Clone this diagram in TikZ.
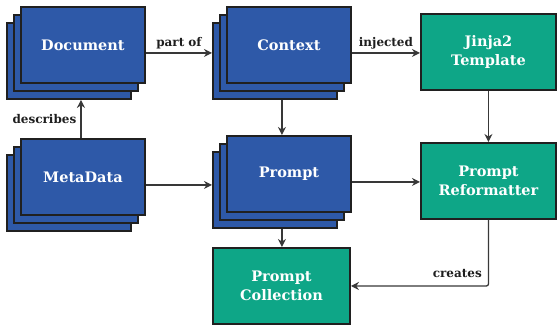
\documentclass[tikz,border=0pt]{standalone}
\usepackage{fontspec}
\setmainfont{DejaVu Serif}
\usetikzlibrary{arrows.meta,fit}
\definecolor{boxblue}{HTML}{2E59A8}
\definecolor{boxgreen}{HTML}{0EA687}
\definecolor{edgecol}{HTML}{202020}
\definecolor{wirecol}{HTML}{383838}
\definecolor{labelcol}{HTML}{1E1E1E}
\tikzset{
  card/.style={draw=edgecol, line width=1.9pt, fill=boxblue, minimum width=124pt, minimum height=76pt, inner sep=0pt, anchor=north west, text=white, font=\bfseries\fontsize{14.5}{19}\selectfont},
  greenbox/.style={draw=edgecol, line width=1.9pt, fill=boxgreen, minimum height=76pt, inner sep=0pt, anchor=north west, align=center, text=white, font=\bfseries\fontsize{14.5}{19}\selectfont},
  stackfit/.style={inner sep=0pt, outer sep=0pt, draw=none},
  wire/.style={draw=wirecol, line width=1.3pt, -{Stealth[length=8pt,width=8pt]}},
  edgelabel/.style={font=\bfseries\fontsize{12}{14}\selectfont, text=labelcol, inner sep=2pt}
}
\newcommand\cardstack[4]{%
  \node[card] (#1b) at (#2-14,#3+16) {};
  \node[card] (#1m) at (#2-7,#3+8) {};
  \node[card] (#1f) at (#2,#3) {#4};
  \node[stackfit, fit=(#1b)(#1f)] (#1) {};
}
\begin{document}
\begin{tikzpicture}[x=1pt,y=-1pt]
\useasboundingbox (0,0) rectangle (557,329);
\cardstack{doc}{20}{6}{Document}
\cardstack{ctx}{226}{6}{Context}
\cardstack{meta}{20}{138}{MetaData}
\cardstack{prm}{226}{135}{Prompt}
\node[greenbox, minimum width=135pt] (jinja) at (420,13) {Jinja2\\Template};
\node[greenbox, minimum width=135pt] (reform) at (420,142) {Prompt\\Reformatter};
\node[greenbox, minimum width=137pt] (coll) at (212,247) {Prompt\\Collection};

\draw[wire] (doc.east) -- (ctx.west) node[midway, above, edgelabel, yshift=1pt] (lpart) {part of};
\draw[wire] (ctx.east) -- (ctx.east -| jinja.west) node[midway, above, edgelabel, yshift=1pt] (linj) {injected};
\draw[wire] (ctx.south) -- (ctx.south |- prm.north);
\coordinate (dsc) at ([xshift=-2pt]metaf.north);
\draw[wire] (dsc) -- (dsc |- doc.south) node[midway, left, edgelabel, xshift=-2pt] (ldesc) {describes};
\draw[wire] (meta.east) -- (meta.east -| prm.west);
\draw[wire] (prm.east) -- (prm.east -| reform.west);
\draw[wire] (jinja.south) -- (reform.north);
\draw[wire] (prm.south) -- (prm.south |- coll.north);
\draw[wire, rounded corners=2pt] (reform.south) |- (coll.east);
\node[edgelabel, anchor=east] (lcreate) at (484,274) {creates};
\end{tikzpicture}
\end{document}
